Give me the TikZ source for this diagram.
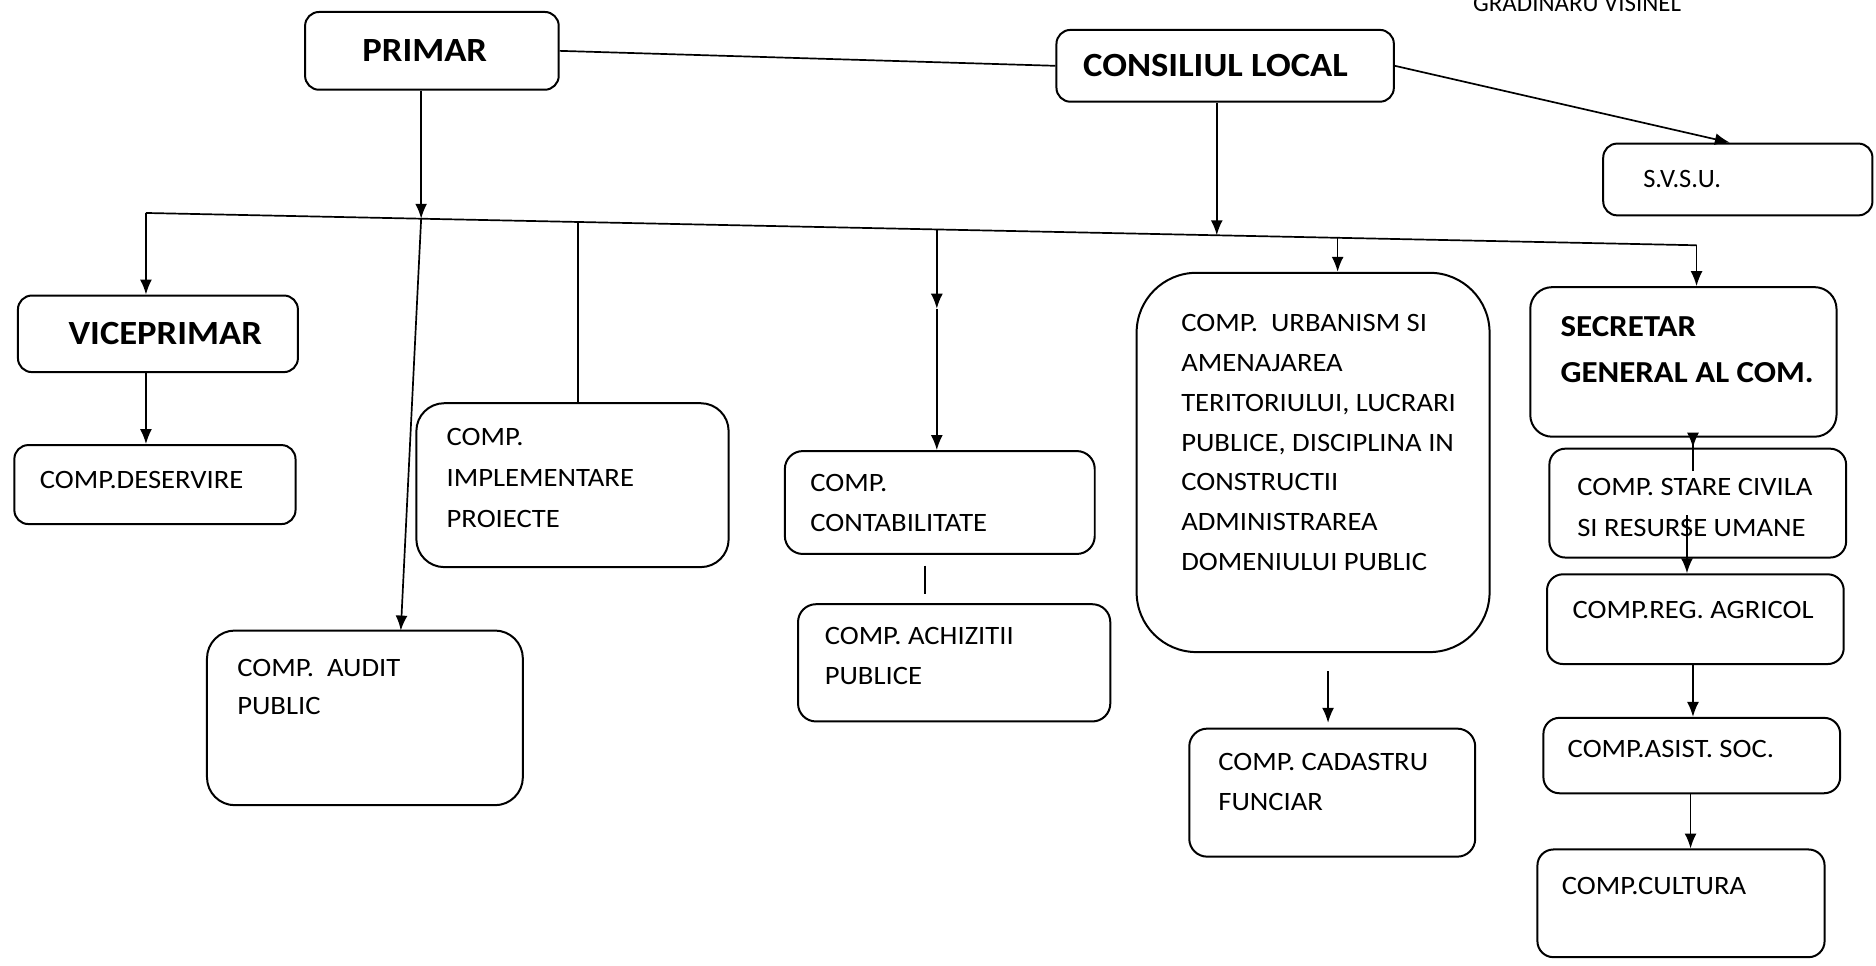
\documentclass[tikz,border=0pt]{standalone}
\usepackage{fontspec}
\setmainfont{Carlito}[FakeStretch=1.08]
\newfontfamily\plainfont{Carlito}
\usetikzlibrary{arrows.meta,fit}
\begin{document}
\begin{tikzpicture}[x=0.6pt,y=-0.6pt,
  box/.style={draw, line width=1pt, inner sep=0pt},
  txt/.style={inner sep=0pt, align=left, anchor=base west, font=\fontsize{13.3}{20}\selectfont},
  bigtxt/.style={inner sep=0pt, align=left, anchor=base west, font=\fontsize{17}{20}\selectfont\bfseries},
  ln/.style={line width=0.85pt},
  arr/.style={ln, -{Latex[length=7.5pt,width=6pt]}}]
\useasboundingbox (0,0) rectangle (1568,807);
\clip (0,0) rectangle (1568,807);
\fill[white] (0,0) rectangle (1568,807);

% title (cut off at top)
\node[txt, font=\fontsize{12.5}{20}\plainfont] (title) at (1231,10) {GRADINARU VISINEL};

% boxes
\node[box, rounded corners=7pt, fit={(255,10) (467,75)}] (primar) {};
\node[box, rounded corners=7pt, fit={(883,25) (1165,85)}] (consiliu) {};
\node[box, rounded corners=7pt, fit={(1340,120) (1565,180)}] (svsu) {};
\node[box, rounded corners=7pt, fit={(15,247) (249,311)}] (vice) {};
\node[box, rounded corners=7pt, fit={(12,372) (247,438)}] (deserv) {};
\node[box, rounded corners=14pt, fit={(348,337) (609,474)}] (implement) {};
\node[box, rounded corners=14pt, fit={(173,527) (437,673)}] (audit) {};
\node[box, rounded corners=9pt, fit={(656,377) (915,463)}] (contab) {};
\node[box, rounded corners=9pt, fit={(667,505) (928,603)}] (achiz) {};
\node[box, rounded corners=30pt, fit={(950,228) (1245,545)}] (urban) {};
\node[box, rounded corners=9pt, fit={(994,609) (1233,716)}] (cadastru) {};
\node[box, rounded corners=11pt, fit={(1279,240) (1535,365)}] (secretar) {};
\node[box, rounded corners=8pt, fit={(1295,375) (1543,466)}] (stare) {};
\node[box, rounded corners=8pt, fit={(1293,480) (1541,555)}] (agricol) {};
\node[box, rounded corners=8pt, fit={(1290,600) (1538,663)}] (asist) {};
\node[box, rounded corners=8pt, fit={(1285,710) (1525,800)}] (cultura) {};

% texts (base = baseline of the last line)
\node[bigtxt, anchor=base] (primar-t) at (355,51) {PRIMAR};
\node[bigtxt] (consiliu-t) at (905,64) {CONSILIUL LOCAL};
\node[txt, anchor=base, font=\fontsize{13.3}{20}\plainfont] (svsu-t) at (1406,157) {S.V.S.U.};
\node[bigtxt] (vice-t) at (57,288) {VICEPRIMAR};
\node[txt] (deserv-t) at (33,408) {COMP.DESERVIRE};
\node[txt, font=\fontsize{13.3}{20.7}\selectfont] (implement-t) at (373,441) {COMP.\\IMPLEMENTARE\\PROIECTE};
\node[txt, font=\fontsize{13.3}{19.2}\selectfont] (audit-t) at (198,597) {COMP.\ \ AUDIT\\PUBLIC};
\node[txt, font=\fontsize{13.3}{19.8}\selectfont] (contab-t) at (677,444) {COMP.\\CONTABILITATE};
\node[txt, font=\fontsize{13.3}{19.8}\selectfont] (achiz-t) at (689,572) {COMP. ACHIZITII\\PUBLICE};
\node[txt, font=\fontsize{13.3}{20}\selectfont] (urban-t) at (987,477) {COMP.\ \ URBANISM SI\\AMENAJAREA\\TERITORIULUI, LUCRARI\\PUBLICE, DISCIPLINA IN\\CONSTRUCTII\\ADMINISTRAREA\\DOMENIULUI PUBLIC};
\node[txt, font=\fontsize{13.3}{19.8}\selectfont] (cadastru-t) at (1018,677) {COMP. CADASTRU\\FUNCIAR};
\node[bigtxt, font=\fontsize{15.3}{23.4}\selectfont\bfseries] (secretar-t) at (1304,320) {SECRETAR\\GENERAL AL COM.};
\node[txt, font=\fontsize{13.3}{20.4}\selectfont] (stare-t) at (1318,448) {COMP. STARE CIVILA\\SI RESURSE UMANE};
\node[txt] (agricol-t) at (1314,517) {COMP.REG. AGRICOL};
\node[txt] (asist-t) at (1310,633) {COMP.ASIST. SOC.};
\node[txt] (cultura-t) at (1305,748) {COMP.CULTURA};

% bus and junctions
\coordinate (bL) at (122,178);
\coordinate (bR) at (1418,205);
\coordinate (jP) at (352,182.8);
\coordinate (jI) at (483,185.5);
\coordinate (jC) at (783,191.8);
\coordinate (mC) at (783,258);
\coordinate (jL) at (1017,196.6);
\coordinate (jU) at (1118,198.8);
\coordinate (aT) at (335,527);
\coordinate (tk) at (773,0);
\coordinate (xa) at (1110,0);
\coordinate (xs) at (1415,0);
\coordinate (xr) at (1410,0);
\coordinate (xg) at (1415,0);
\coordinate (xc) at (1413,0);

\draw[ln] (bL) -- (bR);
\draw[ln] (primar.east) -- (consiliu.west);
\draw[arr] (consiliu.east) -- ([xshift=-4pt]svsu.north);
\draw[arr] (primar.south -| jP) -- (jP);
\draw[arr] (jP) -- (aT);
\draw[arr] (consiliu.south -| jL) -- (jL);
\draw[arr] (bL) -- (vice.north -| bL);
\draw[arr] (vice.south -| bL) -- (deserv.north -| bL);
\draw[ln] (jI) -- (implement.north -| jI);
\draw[arr] (jC) -- (mC);
\draw[arr] (mC) -- (contab.north -| mC);
\draw[ln, shorten <=5.4pt, shorten >=4.8pt] (contab.south -| tk) -- (achiz.north -| tk);
\draw[arr] (jU) -- (urban.north -| jU);
\draw[arr, shorten <=9pt, shorten >=2.4pt] (urban.south -| xa) -- (cadastru.north -| xa);
\draw[arr] (bR) -- (secretar.north -| bR);
\draw[arr, shorten <=-16.8pt] (secretar.south -| xs) -- (stare.north -| xs);
\draw[arr, shorten <=-21.6pt] (stare.south -| xr) -- (agricol.north -| xr);
\draw[arr] (agricol.south -| xg) -- (asist.north -| xg);
\draw[arr] (asist.south -| xc) -- (cultura.north -| xc);
\end{tikzpicture}
\end{document}
